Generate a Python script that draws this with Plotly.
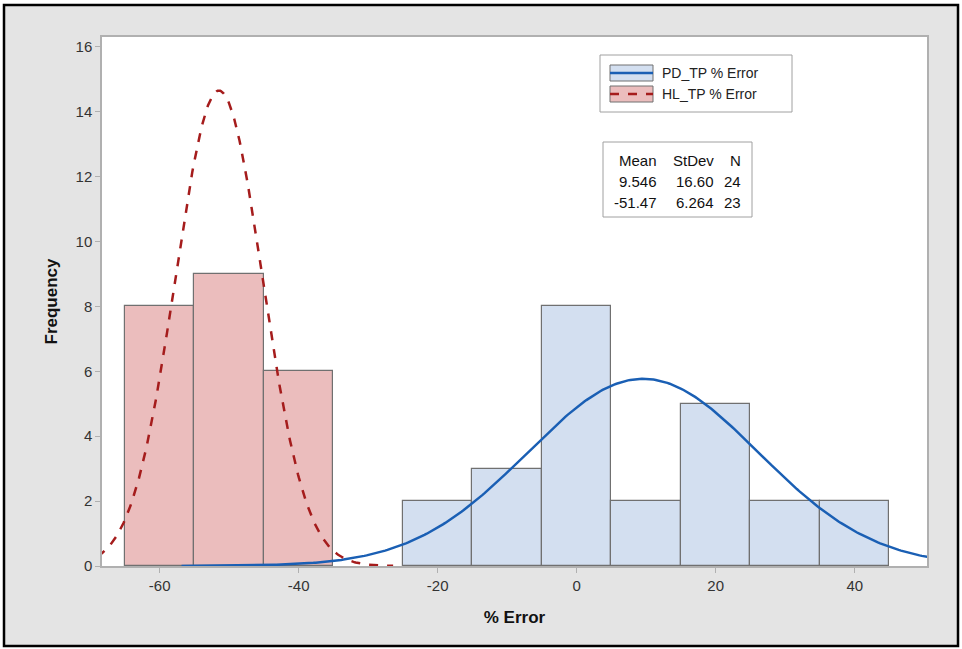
import numpy as np
import plotly.graph_objects as go

# ---- data ----
bin_width = 10
hl_centers = [-60, -50, -40]
hl_counts = [8, 9, 6]
pd_centers = [-20, -10, 0, 10, 20, 30, 40]
pd_counts = [2, 3, 8, 2, 5, 2, 2]

series_names = ["PD_TP % Error", "HL_TP % Error"]
means = [9.546, -51.47]
stdevs = [16.60, 6.264]
ns = [24, 23]
mean_labels = ["9.546", "-51.47"]
stdev_labels = ["16.60", "6.264"]

x_ticks = [-60, -40, -20, 0, 20, 40]
x_tick_labels = ["-60", "-40", "-20", "0", "20", "40"]
y_ticks = [0, 2, 4, 6, 8, 10, 12, 14, 16]

# ---- styling ----
BLUE_FILL = "#d3dff0"
RED_FILL = "#ebbdbd"
BLUE_LINE = "#1a5fb4"
RED_LINE = "#a51c1c"
BAR_EDGE = "#707070"
FONT = "Liberation Sans, Arial, sans-serif"

W, H = 962, 649
L, R, T, B = 102, 35, 37, 83
PW, PH = W - L - R, H - T - B


def xp(px):
    return (px - L) / PW


def yp(py):
    return (H - B - py) / PH


def normal_curve(mu, sd, n):
    xs = np.linspace(mu - 4 * sd, mu + 4 * sd, 400)
    ys = n * bin_width / (sd * np.sqrt(2 * np.pi)) * np.exp(-0.5 * ((xs - mu) / sd) ** 2)
    return xs, ys


fig = go.Figure()
fig.add_trace(go.Bar(x=hl_centers, y=hl_counts, width=bin_width,
                     marker=dict(color=RED_FILL, line=dict(color=BAR_EDGE, width=1.2)),
                     showlegend=False, hoverinfo="x+y"))
fig.add_trace(go.Bar(x=pd_centers, y=pd_counts, width=bin_width,
                     marker=dict(color=BLUE_FILL, line=dict(color=BAR_EDGE, width=1.2)),
                     showlegend=False, hoverinfo="x+y"))

bx, by = normal_curve(means[0], stdevs[0], ns[0])
fig.add_trace(go.Scatter(x=bx, y=by, mode="lines",
                         line=dict(color=BLUE_LINE, width=2.5), showlegend=False))
rx, ry = normal_curve(means[1], stdevs[1], ns[1])
fig.add_trace(go.Scatter(x=rx, y=ry, mode="lines",
                         line=dict(color=RED_LINE, width=2.5, dash="dash"), showlegend=False))

shapes = []
annotations = []

# outer frame
shapes.append(dict(type="rect", xref="paper", yref="paper", layer="below",
                   x0=xp(4), x1=xp(958), y0=yp(646), y1=yp(5),
                   fillcolor="#e4e4e4", line=dict(color="black", width=2.5)))
# white plot area
shapes.append(dict(type="rect", xref="paper", yref="paper", layer="below",
                   x0=0, x1=1, y0=0, y1=1,
                   fillcolor="white", line=dict(width=0)))

# legend box
shapes.append(dict(type="rect", xref="paper", yref="paper",
                   x0=xp(600), x1=xp(792), y0=yp(112), y1=yp(55),
                   fillcolor="white", line=dict(color="#a0a0a0", width=1)))
legend_rows = [(73, BLUE_FILL, BLUE_LINE, "solid"), (94, RED_FILL, RED_LINE, "dash")]
for (cy, fill, lc, dash), name in zip(legend_rows, series_names):
    shapes.append(dict(type="rect", xref="paper", yref="paper",
                       x0=xp(610), x1=xp(653), y0=yp(cy + 8), y1=yp(cy - 8),
                       fillcolor=fill, line=dict(color=BAR_EDGE, width=1)))
    shapes.append(dict(type="line", xref="paper", yref="paper",
                       x0=xp(610), x1=xp(653), y0=yp(cy), y1=yp(cy),
                       line=dict(color=lc, width=2.5, dash=dash)))
    annotations.append(dict(xref="paper", yref="paper", x=xp(660), y=yp(cy),
                            xanchor="left", yanchor="middle", showarrow=False,
                            text=name, font=dict(family=FONT, size=14, color="#222")))

# stats box
shapes.append(dict(type="rect", xref="paper", yref="paper",
                   x0=xp(603), x1=xp(752), y0=yp(217), y1=yp(142),
                   fillcolor="white", line=dict(color="#a0a0a0", width=1)))
cols_x = [659, 716, 743]
rows = [["Mean", "StDev", "N"]] + [[m, s, str(n)]
                                    for m, s, n in zip(mean_labels, stdev_labels, ns)]
for i, row in enumerate(rows):
    for cx, txt in zip(cols_x, row):
        annotations.append(dict(xref="paper", yref="paper", x=xp(cx), y=yp(160 + 21 * i),
                                xanchor="right", yanchor="middle", showarrow=False,
                                text=txt, font=dict(family=FONT, size=15, color="#111")))

fig.update_layout(
    width=W, height=H,
    margin=dict(l=L, r=R, t=T, b=B),
    paper_bgcolor="white",
    plot_bgcolor="white",
    barmode="overlay",
    bargap=0,
    font=dict(family=FONT, size=14, color="#333"),
    shapes=shapes,
    annotations=annotations,
    xaxis=dict(range=[-68.3, 50.4], tickvals=x_ticks, ticktext=x_tick_labels,
               showgrid=False, zeroline=False,
               showline=True, linecolor="#b0b0b0", linewidth=1.5, mirror=True,
               ticks="outside", ticklen=5, tickcolor="#b0b0b0",
               tickfont=dict(family=FONT, size=15, color="#333"),
               title=dict(text="<b>% Error</b>", font=dict(family=FONT, size=17, color="#111"),
                          standoff=18)),
    yaxis=dict(range=[0, 16.3], tickvals=y_ticks, showgrid=False, zeroline=False,
               showline=True, linecolor="#b0b0b0", linewidth=1.5, mirror=True,
               ticks="outside", ticklen=5, tickcolor="#b0b0b0",
               tickfont=dict(family=FONT, size=15, color="#333"),
               title=dict(text="<b>Frequency</b>", font=dict(family=FONT, size=17, color="#111"),
                          standoff=14)),
)

fig.write_html("out.html", config={"displayModeBar": False},
               post_script="document.body.style.margin='0';document.body.style.overflow='hidden';")
